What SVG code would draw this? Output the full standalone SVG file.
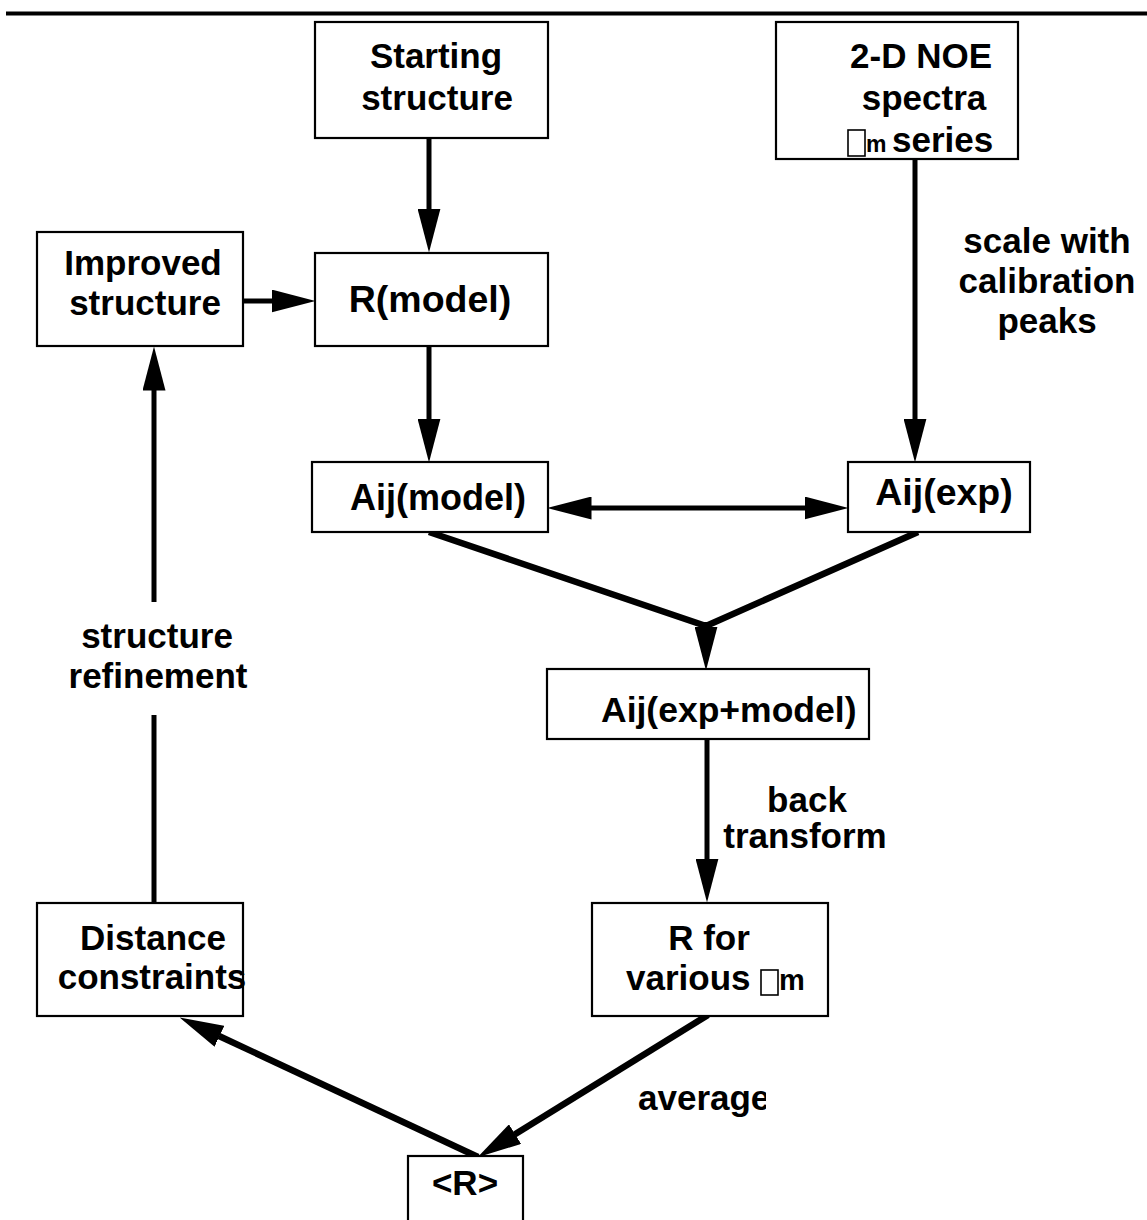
<svg xmlns="http://www.w3.org/2000/svg" width="1147" height="1220" viewBox="0 0 1147 1220">
<style>
.box{fill:#fff;stroke:#000;stroke-width:2.2}
.t{font-family:"Liberation Sans",Arial,Helvetica,sans-serif;font-weight:bold;font-size:35px;fill:#000}
.c{text-anchor:middle}
.sub{font-size:23px}
.conn{fill:none;stroke:#000;stroke-width:5}
.thick{stroke-width:6.5}
.tofu{fill:none;stroke:#000;stroke-width:1.6}
</style>
<defs>
<marker id="ah" markerUnits="userSpaceOnUse" markerWidth="44" markerHeight="23" viewBox="0 0 44 23" refX="0.5" refY="11.5" orient="auto-start-reverse">
<path d="M0,0 L44,11.5 L0,23 z" fill="#000"/>
</marker>
<clipPath id="clipAvg"><rect x="0" y="1000" width="766" height="200"/></clipPath>
</defs>
<rect x="6" y="11.5" width="1141" height="4" fill="#000"/>
<g id="connectors">
<path class="conn" d="M429,138 V209" marker-end="url(#ah)"/>
<path class="conn" d="M243,301 H272" marker-end="url(#ah)"/>
<path class="conn" d="M429,346 V419" marker-end="url(#ah)"/>
<path class="conn" d="M915,160 V419" marker-end="url(#ah)"/>
<path class="conn" d="M591,508 H805" marker-start="url(#ah)" marker-end="url(#ah)"/>
<path class="conn thick" d="M429,532 L706,626 L918,532"/>
<path class="conn" d="M706,622 V627" marker-end="url(#ah)"/>
<path class="conn" d="M707,739 V859" marker-end="url(#ah)"/>
<path class="conn thick" d="M708,1015 L514.6,1134.4" marker-end="url(#ah)"/>
<path class="conn thick" d="M478,1157 L219,1036" marker-end="url(#ah)"/>
<path class="conn" d="M154,902 V715"/>
<path class="conn" d="M154,602 V390" marker-end="url(#ah)"/>
</g>
<g id="starting">
<rect class="box" x="315" y="22" width="233" height="116"/>
<text class="t c" x="436" y="68">Starting</text>
<text class="t c" x="437" y="110">structure</text>
</g>
<g id="noe">
<rect class="box" x="776" y="22" width="242" height="137"/>
<text class="t c" x="921" y="68">2-D NOE</text>
<text class="t c" x="924" y="110">spectra</text>
<rect class="tofu" x="848" y="130" width="17" height="26"/>
<text class="t sub" x="866" y="152">m</text>
<text class="t" x="892" y="152">series</text>
</g>
<g id="improved">
<rect class="box" x="37" y="232" width="206" height="114"/>
<text class="t c" x="143" y="275">Improved</text>
<text class="t c" x="145" y="315">structure</text>
</g>
<g id="rmodel">
<rect class="box" x="315" y="253" width="233" height="93"/>
<text class="t c" x="430" y="312" style="font-size:37.5px">R(model)</text>
</g>
<g id="aijmodel">
<rect class="box" x="312" y="462" width="236" height="70"/>
<text class="t c" x="438" y="510" style="font-size:36px">Aij(model)</text>
</g>
<g id="aijexp">
<rect class="box" x="848" y="462" width="182" height="70"/>
<text class="t c" x="944" y="505" style="font-size:37.5px">Aij(exp)</text>
</g>
<g id="aijexpmodel">
<rect class="box" x="547" y="669" width="322" height="70"/>
<text class="t" x="601" y="722" style="font-size:35.5px">Aij(exp+model)</text>
</g>
<g id="rvarious">
<rect class="box" x="592" y="903" width="236" height="113"/>
<text class="t c" x="709" y="950">R for</text>
<text class="t" x="626" y="990">various</text>
<rect class="tofu" x="761" y="970" width="17" height="25"/>
<text class="t" x="779" y="990" style="font-size:29px">m</text>
</g>
<g id="distance">
<rect class="box" x="37" y="903" width="206" height="113"/>
<text class="t c" x="153" y="950">Distance</text>
<text class="t c" x="152" y="989">constraints</text>
</g>
<g id="ravg">
<rect class="box" x="408" y="1156" width="115" height="80"/>
<text class="t c" x="465" y="1195">&lt;R&gt;</text>
</g>
<g id="labels">
<text class="t c" x="1047" y="253">scale with</text>
<text class="t c" x="1047" y="293">calibration</text>
<text class="t c" x="1047" y="333">peaks</text>
<text class="t c" x="157" y="648">structure</text>
<text class="t c" x="158" y="688">refinement</text>
<text class="t c" x="807" y="812">back</text>
<text class="t c" x="805" y="848">transform</text>
<text class="t" x="638" y="1110" clip-path="url(#clipAvg)">average</text>
</g>
</svg>
